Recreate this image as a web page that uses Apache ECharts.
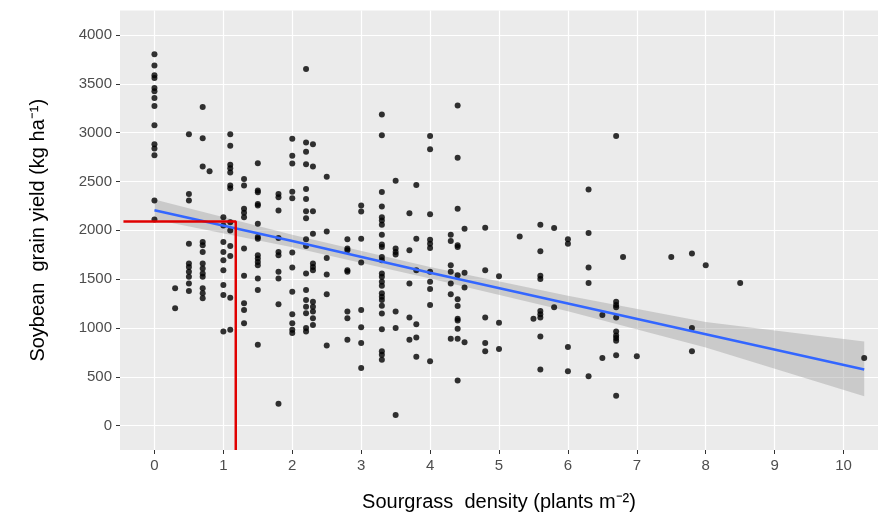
<!DOCTYPE html>
<html><head><meta charset="utf-8">
<script src="https://cdn.jsdelivr.net/npm/echarts@6/dist/echarts.min.js"></script>
<style>html,body{margin:0;background:#fff}#c{width:892px;height:517px}</style>
</head><body><div id="c"></div>
<script>
// observed points, grouped by density column: [density, yields...]
const COLUMNS = [
  [0, 3803, 3688, 3586, 3559, 3457, 3423, 3355, 3271, 3074, 2881, 2837, 2769, 2304, 2110],
  [0.3, 1405, 1201],
  [0.5, 2982, 2372, 2304, 1863, 1659, 1625, 1574, 1523, 1456, 1378],
  [0.7, 3261, 2942, 2653, 1880, 1846, 1778, 1659, 1608, 1557, 1523, 1405, 1354, 1303],
  [0.8, 2603],
  [1.0, 2134, 2049, 1880, 1778, 1693, 1591, 1439, 1337, 964],
  [1.1, 2982, 2864, 2670, 2636, 2592, 2457, 2429, 2083, 1998, 1839, 1737, 1310, 981],
  [1.3, 2524, 2457, 2219, 2178, 2134, 1812, 1534, 1252, 1184, 1048],
  [1.5, 2687, 2406, 2389, 2270, 2253, 2066, 1931, 1914, 1744, 1710, 1676, 1642, 1506, 1388, 828],
  [1.8, 2372, 2338, 2202, 1920, 1778, 1744, 1574, 1506, 1242, 224],
  [2.0, 2938, 2762, 2684, 2395, 2328, 1771, 1618, 1371, 1140, 1048, 981, 947],
  [2.2, 3651, 2898, 2803, 2677, 2423, 2321, 2195, 2124, 1907, 1839, 1557, 1388, 1286, 1218, 1150, 998, 964],
  [2.3, 2881, 2653, 2195, 1964, 1659, 1625, 1591, 1269, 1218, 1167, 1099, 1031],
  [2.5, 2548, 1988, 1717, 1547, 1344, 821],
  [2.8, 1907, 1812, 1795, 1591, 1574, 1167, 1099, 879],
  [3.0, 2253, 2192, 1914, 1669, 1184, 1008, 845, 590],
  [3.3, 3186, 2972, 2392, 2243, 2134, 2100, 2056, 1954, 1853, 1829, 1727, 1693, 1557, 1523, 1472, 1432, 1354, 1320, 1286, 1228, 1147, 987, 760, 726, 675],
  [3.5, 2507, 1812, 1778, 1751, 1167, 998, 109],
  [3.7, 2175, 1795, 1456, 1106, 879],
  [3.8, 2463, 1914, 1591, 1038, 903, 706],
  [4.0, 2966, 2830, 2165, 1903, 1863, 1819, 1574, 1473, 1398, 1235, 658],
  [4.3, 1954, 1890, 1642, 1574, 1456, 1344, 889],
  [4.4, 3278, 2742, 2219, 1846, 1829, 1540, 1293, 1225, 1093, 1076, 991, 889, 461],
  [4.5, 2015, 1564, 1415, 852],
  [4.8, 2026, 1591, 1106, 845, 760],
  [5.0, 1530, 1052, 784],
  [5.3, 1937],
  [5.5, 1093],
  [5.6, 2056, 1785, 1534, 1500, 1174, 1140, 1106, 913, 573],
  [5.8, 2022, 1211],
  [6.0, 1907, 1863, 804, 556],
  [6.3, 2416, 1971, 1618, 1459, 505],
  [6.5, 1133, 692],
  [6.7, 2966, 1269, 1235, 1211, 1106, 964, 923, 896, 869, 719, 305],
  [6.8, 1727],
  [7.0, 709],
  [7.5, 1727],
  [7.8, 1761, 998, 760],
  [8.0, 1642],
  [8.5, 1459],
  [10.3, 692]
];

// fitted line and confidence band
const FIT_X = [0, 2, 4, 6, 8, 10.3];
const FIT_Y = [2205, 1890, 1565, 1250, 935, 575];
const BAND_LO = [2110, 1825, 1505, 1170, 800, 300];
const BAND_HI = [2315, 1955, 1625, 1330, 1060, 860];

// red reference lines
const REF_X = 1.18;
const REF_Y = 2090;

const X_TICKS = [0, 1, 2, 3, 4, 5, 6, 7, 8, 9, 10];
const Y_TICKS = [0, 500, 1000, 1500, 2000, 2500, 3000, 3500, 4000];

const points = [];
COLUMNS.forEach(col => col.slice(1).forEach(v => points.push([col[0], v])));

const chart = echarts.init(document.getElementById("c"));
const labelStyle = { color: "#4D4D4D", fontSize: 15, fontFamily: "Liberation Sans", formatter: v => String(v) };

chart.setOption({
  animation: false,
  grid: { left: 120, right: 14, top: 10.5, bottom: 64, show: true, backgroundColor: "#EBEBEB", borderWidth: 0 },
  xAxis: {
    type: "value", min: -0.5, max: 10.5, interval: 0.5,
    axisLine: { show: false, onZero: false },
    axisTick: { customValues: X_TICKS, length: 4, lineStyle: { color: "#333" } },
    axisLabel: { customValues: X_TICKS, margin: 8, ...labelStyle },
    splitLine: { lineStyle: { color: "#fff", width: 1.2 } },
    name: "Sourgrass  density (plants m⁻²)", nameLocation: "middle", nameGap: 42,
    nameTextStyle: { color: "#000", fontSize: 20, fontFamily: "Liberation Sans" }
  },
  yAxis: {
    type: "value", min: -250, max: 4250, interval: 250,
    axisLine: { show: false, onZero: false },
    axisTick: { customValues: Y_TICKS, length: 4, lineStyle: { color: "#333" } },
    axisLabel: { customValues: Y_TICKS, margin: 8, ...labelStyle },
    splitLine: { lineStyle: { color: "#fff", width: 1.2 } },
    name: "Soybean  grain yield (kg ha⁻¹)", nameLocation: "middle", nameGap: 72,
    nameTextStyle: { color: "#000", fontSize: 20, fontFamily: "Liberation Sans" }
  },
  series: [
    {
      type: "custom", silent: true, z: 2,
      data: [0],
      renderItem: (params, api) => {
        const upper = FIT_X.map((x, i) => api.coord([x, BAND_HI[i]]));
        const lower = FIT_X.map((x, i) => api.coord([x, BAND_LO[i]])).reverse();
        return { type: "polygon", shape: { points: upper.concat(lower) }, style: { fill: "rgba(153,153,153,0.4)" } };
      }
    },
    {
      type: "scatter", data: points, symbolSize: 6,
      itemStyle: { color: "#000" }, z: 3
    },
    {
      type: "line", data: FIT_X.map((x, i) => [x, FIT_Y[i]]), symbol: "none",
      lineStyle: { color: "#3366FF", width: 2.5 }, z: 4
    },
    {
      type: "line", data: [[-0.45, REF_Y], [REF_X, REF_Y], [REF_X, -250]], symbol: "none",
      lineStyle: { color: "#E00000", width: 2.5 }, z: 5
    }
  ]
});
</script></body></html>
